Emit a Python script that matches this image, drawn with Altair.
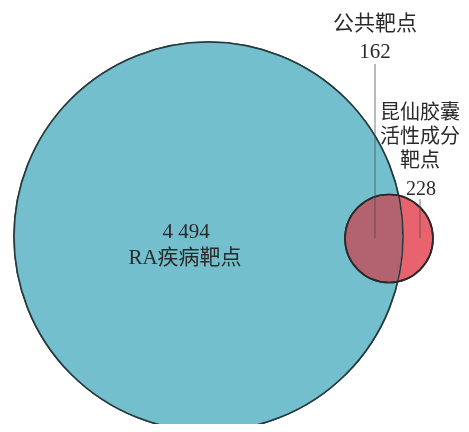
import altair as alt
import pandas as pd

# Set sizes (Venn)
set_names = ["RA疾病靶点", "昆仙胶囊活性成分靶点", "公共靶点"]
set_counts = [4494, 228, 162]

# Layout (picture coordinates)
circle_cx = [208.5, 389]
circle_cy = [236.5, 238.5]
circle_d = [389, 88]
circle_fill = ["#73bfcd", "#e9636f"]

label_lines = ["4 494", "RA疾病靶点", "公共靶点", "162"]
label_x = [186, 185, 375, 375]
label_y = [232, 258, 24, 52]

side_lines = ["昆仙胶囊", "活性成分", "靶点", "228"]
side_x = [420, 420, 420, 421]
side_y = [113, 137, 161, 189]

rule_x = [375, 420]
rule_y = [64, 199]
rule_y2 = [238, 238]

W, H = 453, 416
xs = alt.Scale(domain=[8, 8 + W], nice=False, zero=False)
ys = alt.Scale(domain=[8 + H, 8], nice=False, zero=False)

circles = pd.DataFrame({
    "set": set_names[:2], "count": set_counts[:2],
    "cx": circle_cx, "cy": circle_cy, "size": [d * d for d in circle_d],
    "fill": circle_fill,
})
big = circles.iloc[[0]]
small = circles.iloc[[1]]

def circ(df, **kw):
    return alt.Chart(df).mark_point(shape="circle", **kw).encode(
        x=alt.X("cx:Q", scale=xs, axis=None),
        y=alt.Y("cy:Q", scale=ys, axis=None),
        size=alt.Size("size:Q", scale=None, legend=None),
    )

big_layer = circ(big, filled=True, color="#73bfcd", stroke="#27393c", strokeWidth=1.6, opacity=1)
small_layer = circ(small, filled=True, color="#e9636f", stroke="#2a2a2a", strokeWidth=1.6, opacity=1)
# Overlap tint: darken blend of the big circle over the small one
overlap_layer = circ(big, filled=True, color="#b2ffff", stroke="#27393c", strokeWidth=1.6, opacity=1, blend="darken")
small_outline = circ(small, filled=False, color="#2a2a2a", strokeWidth=1.6, opacity=1)

rules = alt.Chart(pd.DataFrame({"x": rule_x, "y": rule_y, "y2": rule_y2})).mark_rule(
    color="#4a4a4a", strokeWidth=1, opacity=0.75
).encode(
    x=alt.X("x:Q", scale=xs, axis=None),
    y=alt.Y("y:Q", scale=ys, axis=None),
    y2="y2:Q",
)

FONT = "Liberation Serif, Noto Sans CJK SC"

labels = alt.Chart(pd.DataFrame({"t": label_lines, "x": label_x, "y": label_y})).mark_text(
    font=FONT, fontSize=21, color="#2a2a2a", align="center", baseline="middle"
).encode(
    x=alt.X("x:Q", scale=xs, axis=None),
    y=alt.Y("y:Q", scale=ys, axis=None),
    text="t:N",
)

side_labels = alt.Chart(pd.DataFrame({"t": side_lines, "x": side_x, "y": side_y})).mark_text(
    font=FONT, fontSize=20, color="#2a2a2a", align="center", baseline="middle"
).encode(
    x=alt.X("x:Q", scale=xs, axis=None),
    y=alt.Y("y:Q", scale=ys, axis=None),
    text="t:N",
)

chart = alt.layer(big_layer, small_layer, overlap_layer, small_outline, rules, labels, side_labels).properties(
    width=W, height=H, padding=0, autosize=alt.AutoSizeParams(type="none"),
    background="white",
).configure_view(stroke=None)

chart.save("out.html", embed_options={"renderer": "svg", "actions": False})
